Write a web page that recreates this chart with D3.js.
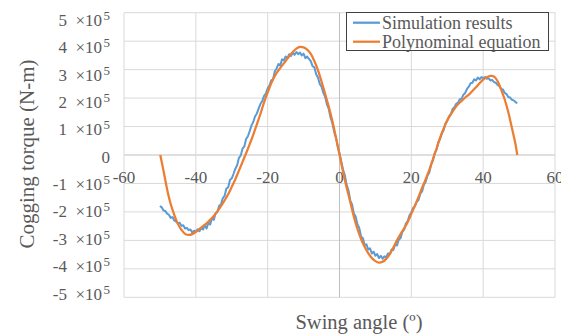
<!DOCTYPE html>
<html>
<head>
<meta charset="utf-8">
<script src="https://cdn.jsdelivr.net/npm/d3@7"></script>
<style>
    body { margin: 0; background: #fff; }
    svg text { font-family: 'Liberation Serif', 'Times New Roman', serif; fill: #595959; }
</style>
</head>
<body>
<svg class="chart" width="561" height="336"></svg>
<script>
// simulation results, swing angle (deg) vs cogging torque (x10^5 N-m)
const simAngle = d3.range(-50, 50, 0.5);
const simTorque = [
    -1.79, -1.84, -1.95, -1.97, -2.06, -2.10, -2.21, -2.18, -2.30, -2.34,
    -2.40, -2.38, -2.49, -2.47, -2.58, -2.56, -2.64, -2.62, -2.72, -2.66,
    -2.70, -2.61, -2.68, -2.57, -2.62, -2.46, -2.58, -2.38, -2.44, -2.22,
    -2.28, -2.05, -2.00, -1.78, -1.74, -1.52, -1.44, -1.18, -1.14, -0.88,
    -0.82, -0.66, -0.48, -0.36, -0.10, -0.02, 0.22, 0.30, 0.56, 0.66,
    0.84, 1.04, 1.16, 1.36, 1.46, 1.64, 1.80, 1.90, 2.08, 2.16,
    2.34, 2.44, 2.62, 2.66, 2.94, 3.04, 3.20, 3.14, 3.36, 3.32,
    3.46, 3.40, 3.54, 3.48, 3.60, 3.52, 3.62, 3.54, 3.60, 3.50,
    3.56, 3.40, 3.46, 3.38, 3.30, 3.12, 3.08, 2.84, 2.72, 2.50,
    2.40, 2.18, 2.04, 1.78, 1.62, 1.32, 1.12, 0.82, 0.62, 0.30,
    0.06, -0.24, -0.52, -0.72, -1.06, -1.24, -1.60, -1.74, -2.06, -2.16,
    -2.44, -2.56, -2.86, -2.92, -3.16, -3.14, -3.32, -3.28, -3.46, -3.40,
    -3.54, -3.48, -3.62, -3.54, -3.64, -3.56, -3.60, -3.46, -3.48, -3.32,
    -3.34, -3.14, -3.18, -2.98, -2.92, -2.70, -2.62, -2.40, -2.32, -2.12,
    -2.02, -1.86, -1.80, -1.64, -1.58, -1.36, -1.28, -1.04, -0.94, -0.72,
    -0.62, -0.34, -0.20, 0.06, 0.18, 0.44, 0.56, 0.76, 0.88, 1.10,
    1.20, 1.36, 1.44, 1.62, 1.68, 1.80, 1.84, 1.96, 1.98, 2.12,
    2.18, 2.32, 2.40, 2.52, 2.54, 2.66, 2.62, 2.72, 2.66, 2.74,
    2.70, 2.74, 2.68, 2.70, 2.62, 2.64, 2.56, 2.54, 2.46, 2.42,
    2.32, 2.30, 2.18, 2.14, 2.04, 2.02, 1.94, 1.92, 1.86, 1.82
].map(v => v * 1e5);

// polynominal fit
const polyAngle = [
    -49.9, -49, -48, -47, -46, -45, -44, -43, -42, -41, -40, -39, -38, -37, -36, -35,
    -34, -33, -32, -31, -30, -29, -28, -27, -26, -25, -24, -23, -22, -21, -20, -19,
    -18, -17, -16, -15, -14, -13, -12, -11, -10, -9, -8, -7, -6, -5, -4, -3,
    -2, -1, 0, 1, 2, 3, 4, 5, 6, 7, 8, 9, 10, 11, 12, 13,
    14, 15, 16, 17, 18, 19, 20, 21, 22, 23, 24, 25, 26, 27, 28, 29,
    30, 31, 32, 33, 34, 35, 36, 37, 38, 39, 40, 41, 42, 43, 44, 45,
    46, 47, 48, 49, 49.5
];
const polyTorque = [
    0, -0.55, -1.2, -1.72, -2.1, -2.42, -2.63, -2.77, -2.81, -2.78, -2.7, -2.6, -2.5, -2.4, -2.28, -2.14,
    -1.98, -1.8, -1.6, -1.38, -1.12, -0.85, -0.55, -0.24, 0.06, 0.38, 0.72, 1.08, 1.45, 1.85, 2.2, 2.52,
    2.78, 2.97, 3.14, 3.3, 3.47, 3.62, 3.74, 3.8, 3.78, 3.7, 3.55, 3.3, 2.98, 2.58, 2.15, 1.7,
    1.2, 0.62, 0.02, -0.6, -1.15, -1.65, -2.17, -2.6, -2.95, -3.22, -3.45, -3.62, -3.73, -3.78, -3.75, -3.65,
    -3.48, -3.25, -3.0, -2.78, -2.58, -2.35, -2.07, -1.78, -1.47, -1.15, -0.85, -0.52, -0.15, 0.22, 0.6, 0.93,
    1.22, 1.43, 1.62, 1.78, 1.9, 2.02, 2.12, 2.25, 2.38, 2.52, 2.65, 2.73, 2.78, 2.76, 2.6, 2.3,
    1.95, 1.5, 0.95, 0.38, 0
].map(v => v * 1e5);

const xTicks = [-60, -40, -20, 0, 20, 40, 60];
const yTicks = [5, 4, 3, 2, 1, 0, -1, -2, -3, -4, -5];
const seriesNames = ['Simulation results', 'Polynominal equation'];
const seriesColors = ['#5B9BD5', '#ED7D31'];

const svg = d3.select('.chart');
const plot = { left: 124, right: 555, top: 12.7, bottom: 297.3 };

const x = d3.scaleLinear().domain([-60, 60]).range([plot.left, plot.right]);
const y = d3.scaleLinear().domain([-5e5, 5e5]).range([plot.bottom, plot.top]);
// tick labels in the reference sit on a slightly tighter spacing than the grid
const yLabel = d3.scaleLinear().domain([-5e5, 5e5]).range([294, 20.5]);

// grid
const grid = svg.append('g').attr('class', 'grid');
grid.selectAll('.hgrid')
    .data(yTicks)
    .enter()
    .append('line')
    .attr('x1', plot.left)
    .attr('x2', plot.right)
    .attr('y1', (d) => y(d * 1e5))
    .attr('y2', (d) => y(d * 1e5))
    .attr('stroke', (d) => (d === 0 ? '#bfbfbf' : '#d9d9d9'))
    .attr('stroke-width', 1);

grid.selectAll('.vgrid')
    .data(xTicks)
    .enter()
    .append('line')
    .attr('x1', (d) => x(d))
    .attr('x2', (d) => x(d))
    .attr('y1', plot.top)
    .attr('y2', plot.bottom)
    .attr('stroke', (d) => (d === 0 ? '#bfbfbf' : '#d9d9d9'))
    .attr('stroke-width', 1);

// x tick labels under the zero line
svg.append('g')
    .selectAll('text')
    .data(xTicks)
    .enter()
    .append('text')
    .attr('x', (d) => x(d))
    .attr('y', y(0) + 28)
    .attr('text-anchor', 'middle')
    .attr('font-size', 17)
    .text((d) => d);

// y tick labels, "n ×10⁵"
const yl = svg.append('g')
    .selectAll('text')
    .data(yTicks)
    .enter()
    .append('text')
    .attr('x', 110)
    .attr('y', (d) => yLabel(d * 1e5) + 5.5)
    .attr('text-anchor', 'end')
    .attr('font-size', 17);

yl.filter((d) => d === 0).text('0');
yl.filter((d) => d !== 0).each(function(d) {
    const t = d3.select(this);
    t.append('tspan').text(`${d}\u00a0\u00a0×10`);
    t.append('tspan').attr('font-size', 13).attr('dx', 1.5).attr('dy', -6).text('5');
});

// lines
const line = d3.line()
    .x((d) => x(d[0]))
    .y((d) => y(d[1]));

svg.append('path')
    .datum(d3.zip(simAngle, simTorque))
    .attr('fill', 'none')
    .attr('stroke', seriesColors[0])
    .attr('stroke-width', 2)
    .attr('stroke-linejoin', 'round')
    .attr('d', line);

svg.append('path')
    .datum(d3.zip(polyAngle, polyTorque))
    .attr('fill', 'none')
    .attr('stroke', seriesColors[1])
    .attr('stroke-width', 2.25)
    .attr('d', line.curve(d3.curveCatmullRom.alpha(0.5)));

// axis titles
svg.append('text')
    .attr('x', 359)
    .attr('y', 329)
    .attr('text-anchor', 'middle')
    .attr('font-size', 20.5)
    .text('Swing angle (º)');

svg.append('text')
    .attr('transform', 'translate(34,154) rotate(-90)')
    .attr('text-anchor', 'middle')
    .attr('font-size', 21)
    .text('Cogging torque (N-m)');

// legend
const legend = svg.append('g').attr('class', 'legend');
legend.append('rect')
    .attr('x', 346.5)
    .attr('y', 12.5)
    .attr('width', 202)
    .attr('height', 38)
    .attr('fill', '#fff')
    .attr('stroke', '#404040')
    .attr('stroke-width', 1);

const item = legend.selectAll('.item')
    .data(seriesNames)
    .enter()
    .append('g')
    .attr('transform', (d, i) => `translate(0,${22.7 + i * 19})`);

item.append('line')
    .attr('x1', 353)
    .attr('x2', 380)
    .attr('stroke', (d, i) => seriesColors[i])
    .attr('stroke-width', 2.25);

item.append('text')
    .attr('x', 382)
    .attr('y', 6)
    .attr('font-size', 18)
    .text((d) => d);
</script>
</body>
</html>
